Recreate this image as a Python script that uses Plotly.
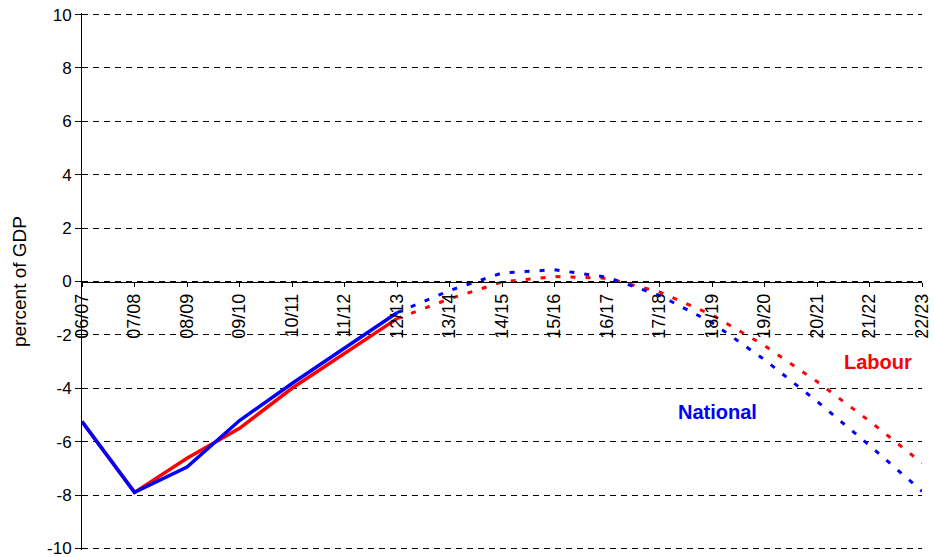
import plotly.graph_objects as go

years = ["06/07", "07/08", "08/09", "09/10", "10/11", "11/12", "12/13", "13/14", "14/15",
         "15/16", "16/17", "17/18", "18/19", "19/20", "20/21", "21/22", "22/23"]

# actual (solid) part: 06/07 .. 12/13
labour_actual = [-5.25, -7.9, -6.62, -5.5, -4.0, -2.7, -1.39]
national_actual = [-5.25, -7.9, -6.95, -5.21, -3.82, -2.51, -1.17]
# projected (dotted) part: 12/13 .. 22/23
labour_proj = [-1.39, -0.65, -0.02, 0.19, 0.12, -0.39, -1.25, -2.4, -3.75, -5.23, -6.8]
national_proj = [-1.17, -0.34, 0.32, 0.44, 0.16, -0.52, -1.54, -2.93, -4.49, -6.14, -7.86]

y_tick_values = [-10, -8, -6, -4, -2, 0, 2, 4, 6, 8, 10]
y_tick_labels = ["-10", "-8", "-6", "-4", "-2", "0", "2", "4", "6", "8", "10"]

RED = "#FF0000"
BLUE = "#0000FF"
FONT = "Arial, Liberation Sans, sans-serif"

fig = go.Figure()
fig.add_trace(go.Scatter(x=years[:7], y=labour_actual, mode="lines",
                         line=dict(color=RED, width=3.5), name="Labour"))
fig.add_trace(go.Scatter(x=years[:7], y=national_actual, mode="lines",
                         line=dict(color=BLUE, width=3.5), name="National"))
fig.add_trace(go.Scatter(x=years[6:], y=labour_proj, mode="lines",
                         line=dict(color=RED, width=3, dash="5px,10px"), name="Labour proj"))
fig.add_trace(go.Scatter(x=years[6:], y=national_proj, mode="lines",
                         line=dict(color=BLUE, width=3, dash="5px,10px"), name="National proj"))

fig.add_annotation(x=15.16, y=-3.0, text="<b>Labour</b>", showarrow=False,
                   font=dict(family=FONT, size=20, color=RED))
fig.add_annotation(x=12.11, y=-4.9, text="<b>National</b>", showarrow=False,
                   font=dict(family=FONT, size=20, color=BLUE))

fig.update_layout(
    width=934, height=557,
    margin=dict(l=82, r=12, t=13, b=7, autoexpand=False),
    paper_bgcolor="white", plot_bgcolor="white",
    showlegend=False,
    font=dict(family=FONT, color="black"),
    xaxis=dict(
        type="category", categoryorder="array", categoryarray=years,
        range=[0, 16], anchor="free", position=0.5, side="bottom",
        showgrid=False, zeroline=False, automargin=False,
        showline=True, linecolor="black", linewidth=1,
        ticks="outside", ticklen=4, tickcolor="black",
        tickangle=-90, tickfont=dict(family=FONT, size=18, color="black"),
        ticklabeloverflow="allow",
    ),
    yaxis=dict(
        range=[-10.06, 10.06], tickmode="array", tickvals=y_tick_values, ticktext=y_tick_labels,
        showgrid=True, gridcolor="black", gridwidth=1, griddash="6px,5px",
        zeroline=False, automargin=False,
        showline=True, linecolor="black", linewidth=1,
        ticks="outside", ticklen=6, tickcolor="black",
        tickfont=dict(family=FONT, size=17, color="black"),
        ticklabeloverflow="allow",
        title=dict(text="percent of GDP", font=dict(family=FONT, size=19, color="black"),
                   standoff=15),
    ),
)

fig.write_html("out.html",
               config={"displayModeBar": False},
               post_script="document.body.style.margin='0';document.body.style.overflow='hidden';")
